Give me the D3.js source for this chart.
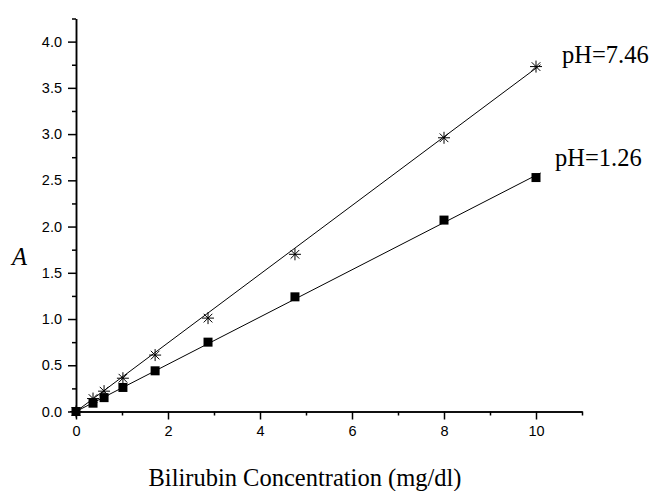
<!DOCTYPE html>
<html>
<head>
<meta charset="utf-8">
<script src="https://cdn.jsdelivr.net/npm/d3@7"></script>
<style>
  body { margin: 0; background: #fff; }
  .axis text { font-family: 'Liberation Sans', Arial, sans-serif; font-size: 14.5px; fill: #000; }
  .axis path, .axis line { stroke: #000; stroke-width: 1.5px; }
  .serif { font-family: 'Liberation Serif', 'Times New Roman', serif; fill: #000; font-size: 24.5px; }
</style>
</head>
<body>
<div class="chart"></div>
<script>
// DATA
// ----------------------------
const conc = [0, 0.37, 0.61, 1.02, 1.72, 2.87, 4.76, 8, 10]
const absHigh = [0, 0.14, 0.22, 0.36, 0.61, 1.01, 1.70, 2.96, 3.73]   // pH=7.46
const absLow = [0, 0.09, 0.15, 0.26, 0.44, 0.75, 1.24, 2.07, 2.53]    // pH=1.26

// fitted lines (end points)
const fitX = [0, 10.1]
const fitHigh = [0, 3.75]
const fitLow = [0, 2.58]

const yTicks = [0, 0.5, 1.0, 1.5, 2.0, 2.5, 3.0, 3.5, 4.0]
const yMinor = [0.25, 0.75, 1.25, 1.75, 2.25, 2.75, 3.25, 3.75, 4.25]
const xTicks = [0, 2, 4, 6, 8, 10]
const xMinor = [1, 3, 5, 7, 9, 11]

// SETUP
// ----------------------------
const fullWidth = 652
const fullHeight = 491

const svg = d3.select('.chart')
  .append('svg')
    .attr('width', fullWidth)
    .attr('height', fullHeight)

const x = d3.scaleLinear().domain([0, 11]).range([76, 582])
const y = d3.scaleLinear().domain([0, 4.25]).range([411.5, 18.5])

// AXES
// ----------------------------
svg.append('g')
    .attr('class', 'axis')
    .attr('transform', `translate(0, ${y(0)})`)
  .call(d3.axisBottom(x).tickValues(xTicks).tickFormat(d3.format('d')).tickSize(8).tickSizeOuter(0).tickPadding(6))

svg.append('g')
    .attr('class', 'axis')
    .attr('transform', `translate(0, ${y(0)})`)
  .call(d3.axisBottom(x).tickValues(xMinor).tickFormat('').tickSize(4).tickSizeOuter(0))

svg.append('g')
    .attr('class', 'axis')
    .attr('transform', `translate(${x(0)}, 0)`)
  .call(d3.axisLeft(y).tickValues(yTicks).tickFormat(d3.format('.1f')).tickSize(8).tickSizeOuter(0).tickPadding(6))

svg.append('g')
    .attr('class', 'axis')
    .attr('transform', `translate(${x(0)}, 0)`)
  .call(d3.axisLeft(y).tickValues(yMinor).tickFormat('').tickSize(4).tickSizeOuter(0))

// FIT LINES
// ----------------------------
const line = d3.line().x(d => x(d[0])).y(d => y(d[1]))

svg.append('path')
  .datum(d3.zip(fitX, fitHigh))
  .attr('d', line)
  .attr('fill', 'none')
  .attr('stroke', '#000')
  .attr('stroke-width', 1)

svg.append('path')
  .datum(d3.zip(fitX, fitLow))
  .attr('d', line)
  .attr('fill', 'none')
  .attr('stroke', '#000')
  .attr('stroke-width', 1)

// MARKERS
// ----------------------------
const r = 6
const star = `M0,${-r}V${r}M${-r},0H${r}M${-r * 0.72},${-r * 0.72}L${r * 0.72},${r * 0.72}M${-r * 0.72},${r * 0.72}L${r * 0.72},${-r * 0.72}`

svg.selectAll('.star')
  .data(d3.zip(conc, absHigh))
  .enter()
  .append('path')
    .attr('class', 'star')
    .attr('transform', d => `translate(${x(d[0])}, ${y(d[1])})`)
    .attr('d', star)
    .attr('stroke', '#000')
    .attr('stroke-width', 1)

svg.selectAll('.sq')
  .data(d3.zip(conc, absLow))
  .enter()
  .append('rect')
    .attr('class', 'sq')
    .attr('x', d => x(d[0]) - 4.5)
    .attr('y', d => y(d[1]) - 4.5)
    .attr('width', 9)
    .attr('height', 9)
    .attr('fill', '#000')

// LABELS
// ----------------------------
svg.append('text').attr('class', 'serif')
  .attr('x', 562).attr('y', 63)
  .text('pH=7.46')

svg.append('text').attr('class', 'serif')
  .attr('x', 555).attr('y', 166)
  .text('pH=1.26')

svg.append('text').attr('class', 'serif')
  .attr('x', 12).attr('y', 265)
  .style('font-style', 'italic')
  .text('A')

svg.append('text').attr('class', 'serif')
  .attr('x', 305).attr('y', 486)
  .attr('text-anchor', 'middle')
  .text('Bilirubin Concentration (mg/dl)')
</script>
</body>
</html>
